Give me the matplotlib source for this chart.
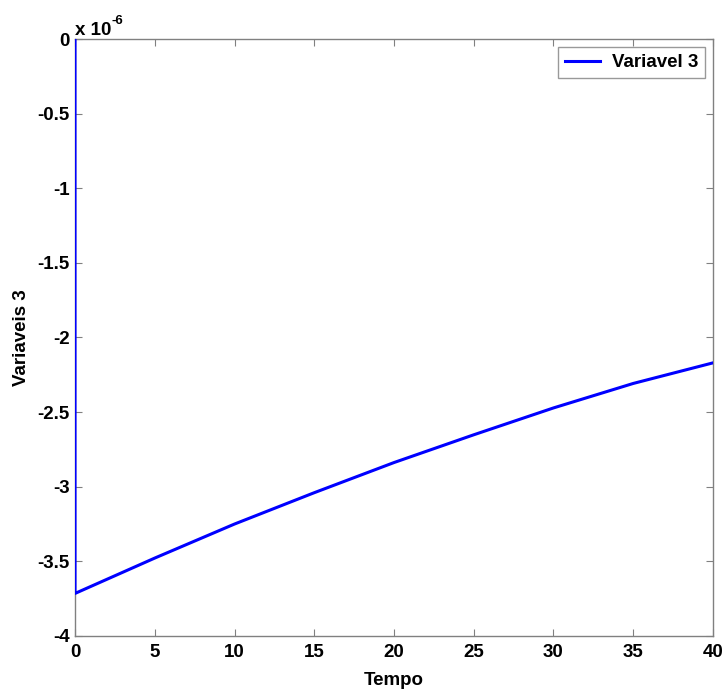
import matplotlib
matplotlib.use("Agg")
import matplotlib.pyplot as plt
from matplotlib.ticker import FuncFormatter

# data (values in units of 1e-6)
tempo = [0, 0.001, 5, 10, 15, 20, 25, 30, 35, 40]
variavel3 = [0, -3.715, -3.478, -3.25, -3.04, -2.838, -2.652, -2.472, -2.308, -2.17]
xticks = [0, 5, 10, 15, 20, 25, 30, 35, 40]
yticks = [-4, -3.5, -3, -2.5, -2, -1.5, -1, -0.5, 0]

plt.rcParams['font.family'] = ['Liberation Sans', 'DejaVu Sans']
plt.rcParams['font.weight'] = 'bold'

fig = plt.figure(figsize=(7.27, 6.93), dpi=100)
ax = fig.add_axes([0.1032, 0.0823, 0.8775, 0.8614])

ax.plot(tempo, variavel3, color='#0000ff', lw=2.2, label='Variavel 3', zorder=5)

ax.set_xlim(0, 40)
ax.set_ylim(-4, 0)
ax.set_xticks(xticks)
ax.set_yticks(yticks)
fmt = FuncFormatter(lambda v, p: ('%g' % v).replace('\u2212', '-'))
ax.xaxis.set_major_formatter(fmt)
ax.yaxis.set_major_formatter(fmt)
ax.tick_params(direction='in', length=5, width=0.8, color='#808080',
               top=True, right=True, labelsize=13.5)
ax.tick_params(axis='x', pad=6)
ax.tick_params(axis='y', pad=4)
for s in ax.spines.values():
    s.set_color('#808080')
    s.set_linewidth(1.0)
for lab in ax.get_xticklabels() + ax.get_yticklabels():
    lab.set_fontweight('bold')

ax.set_xlabel('Tempo', fontsize=13.5, fontweight='bold', labelpad=8)
ax.set_ylabel('Variaveis 3', fontsize=13.5, fontweight='bold', labelpad=5)
ax.text(0.0, 1.0, 'x 10', transform=ax.transAxes, fontsize=13.5,
        fontweight='bold', ha='left', va='bottom')
ax.annotate('-6', xy=(0.0, 1.0), xycoords='axes fraction', xytext=(36, 12),
            textcoords='offset pixels', fontsize=9.5, fontweight='bold',
            ha='left', va='bottom')

leg = ax.legend(loc='upper right', fontsize=13.5, frameon=True, fancybox=False,
                handlelength=1.9, handletextpad=0.6, borderpad=0.35,
                borderaxespad=0.45)
leg.get_frame().set_edgecolor('#808080')
leg.get_frame().set_linewidth(1.0)
for t in leg.get_texts():
    t.set_fontweight('bold')

fig.savefig('out.png', dpi=100)
